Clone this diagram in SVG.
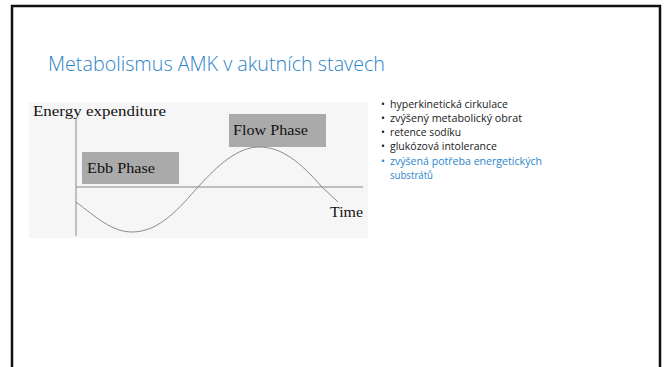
<svg xmlns="http://www.w3.org/2000/svg" width="667" height="367" viewBox="0 0 667 367">
<style>
.title{font-family:"Open Sans","Liberation Sans",sans-serif;font-weight:300;font-size:20px;fill:#2c84c8}
.tm{font-family:"Liberation Serif","Times New Roman",serif;font-size:15px;fill:#111}
.b{font-family:"Open Sans","Liberation Sans",sans-serif;font-size:10.5px;fill:#1a1a1a}
.bb{fill:#2a86cc}
.ax{stroke:#8a8a8a;stroke-width:1;fill:none}
.box{fill:#aaaaaa}
</style>
<rect x="0" y="0" width="667" height="367" fill="#ffffff"/>
<rect x="12" y="6" width="648" height="380" fill="none" stroke="#111" stroke-width="2.5"/>
<text class="title" x="48" y="71" textLength="337" lengthAdjust="spacingAndGlyphs">Metabolismus AMK v akutních stavech</text>
<g id="chart">
<rect x="29" y="102" width="339" height="136" fill="#f6f6f6"/>
<text class="tm" x="33" y="116" textLength="133" lengthAdjust="spacingAndGlyphs">Energy expenditure</text>
<g id="ebb"><rect class="box" x="82" y="152" width="97" height="32"/><text class="tm" x="87" y="173" textLength="68" lengthAdjust="spacingAndGlyphs">Ebb Phase</text></g>
<g id="flow"><rect class="box" x="229" y="114" width="97" height="33"/><text class="tm" x="233" y="135" textLength="75" lengthAdjust="spacingAndGlyphs">Flow Phase</text></g>
<text class="tm" x="330" y="217" textLength="33" lengthAdjust="spacingAndGlyphs">Time</text>
<g id="connectors">
<line class="ax" x1="76" y1="119" x2="76" y2="236"/>
<line class="ax" x1="76" y1="187" x2="363" y2="187"/>
<path class="ax" d="M76,202 C96,217 112,232 132,232 C160,232 180,207 198,187 C218,165 238,147 259,147 C282,147 300,162 322,187 L338,202"/>
</g>
</g>
<g id="bullets">
<text class="b" x="381" y="108">•</text><text class="b" x="390" y="108" textLength="118" lengthAdjust="spacingAndGlyphs">hyperkinetická cirkulace</text>
<text class="b" x="381" y="122">•</text><text class="b" x="390" y="122" textLength="132" lengthAdjust="spacingAndGlyphs">zvýšený metabolický obrat</text>
<text class="b" x="381" y="136">•</text><text class="b" x="390" y="136" textLength="71" lengthAdjust="spacingAndGlyphs">retence sodíku</text>
<text class="b" x="381" y="150">•</text><text class="b" x="390" y="150" textLength="107" lengthAdjust="spacingAndGlyphs">glukózová intolerance</text>
<text class="b bb" x="381" y="164.5">•</text><text class="b bb" x="390" y="164.5" textLength="152" lengthAdjust="spacingAndGlyphs">zvýšená potřeba energetických</text>
<text class="b bb" x="390" y="179" textLength="43" lengthAdjust="spacingAndGlyphs">substrátů</text>
</g>
</svg>
